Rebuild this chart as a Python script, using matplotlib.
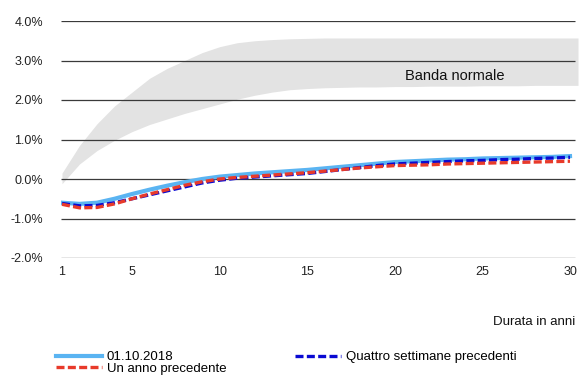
import numpy as np
import matplotlib
matplotlib.use("Agg")
import matplotlib.pyplot as plt

plt.rcParams['font.family'] = ['Liberation Sans', 'DejaVu Sans']

# Durata in anni
years = np.arange(1, 31)

# Banda normale (lower / upper), in %
band_low = [-0.12, 0.38, 0.72, 0.98, 1.20, 1.38, 1.52, 1.66, 1.78, 1.90,
            2.02, 2.12, 2.20, 2.26, 2.29, 2.31, 2.32, 2.33, 2.33, 2.34,
            2.34, 2.35, 2.35, 2.35, 2.36, 2.36, 2.36, 2.37, 2.37, 2.37]
band_high = [0.15, 0.85, 1.40, 1.85, 2.20, 2.55, 2.80, 3.00, 3.20, 3.35,
             3.45, 3.50, 3.53, 3.55, 3.56, 3.57, 3.57, 3.57, 3.57, 3.57,
             3.57, 3.57, 3.57, 3.57, 3.57, 3.57, 3.57, 3.57, 3.57, 3.57]

# Curve dei tassi, in %
curr = [-0.60, -0.63, -0.60, -0.50, -0.38, -0.27, -0.17, -0.08, 0.00, 0.06,
        0.10, 0.14, 0.17, 0.20, 0.23, 0.27, 0.31, 0.35, 0.39, 0.43,
        0.45, 0.47, 0.49, 0.50, 0.52, 0.53, 0.54, 0.55, 0.56, 0.58]
four_weeks = [-0.62, -0.68, -0.67, -0.60, -0.50, -0.40, -0.30, -0.20, -0.10, -0.03,
              0.02, 0.05, 0.08, 0.11, 0.14, 0.19, 0.24, 0.29, 0.34, 0.38,
              0.40, 0.42, 0.44, 0.46, 0.47, 0.49, 0.50, 0.52, 0.53, 0.55]
one_year = [-0.64, -0.73, -0.72, -0.63, -0.50, -0.38, -0.27, -0.16, -0.07, 0.00,
            0.04, 0.07, 0.10, 0.13, 0.16, 0.20, 0.24, 0.28, 0.31, 0.34,
            0.35, 0.36, 0.38, 0.39, 0.40, 0.41, 0.42, 0.43, 0.44, 0.45]

yticks = [-2, -1, 0, 1, 2, 3, 4]
xticks = [1, 5, 10, 15, 20, 25, 30]

W, H = 581, 375
fig = plt.figure(figsize=(W / 100, H / 100), dpi=100)
ax = fig.add_axes([61 / W, 1 - 258 / H, (578 - 61) / W, (258 - 21) / H])

px = (570 - 62) / 29.0
xmin = 1 - 1 / px
xmax = 30 + 8 / px
xgrid = 30 + 5 / px

# band, carried to the right edge
bx = np.append(years, xmax)
ax.fill_between(bx, np.append(band_low, band_low[-1]), np.append(band_high, band_high[-1]),
                color='#e3e3e3', lw=0, zorder=1)
ax.text(23.4, 2.62, 'Banda normale', ha='center', va='center', fontsize=10.5, color='#111111', zorder=2)

ax.hlines(yticks, xmin, xgrid, colors='#3a3a3a', lw=0.9, zorder=2)

dash = (0, (2.4, 1.0))
l1, = ax.plot(years, curr, color='#5ab4f2', lw=3, zorder=3, label='01.10.2018')
l2, = ax.plot(years, four_weeks, color='#0a0ad2', lw=2.4, ls=dash, zorder=4,
              label='Quattro settimane precedenti')
l3, = ax.plot(years, one_year, color='#e83a2a', lw=2.4, ls=dash, zorder=5,
              label='Un anno precedente')

ax.set_xlim(xmin, xmax)
ax.set_ylim(-2, 4)
ax.set_xticks(xticks)
ax.set_yticks(yticks)
ax.set_yticklabels([f'{v:.1f}%' for v in yticks])
ax.tick_params(length=0, labelsize=9, colors='#222222')
ax.tick_params(axis='y', pad=13)
ax.tick_params(axis='x', pad=6)
for s in ax.spines.values():
    s.set_visible(False)

fig.text(575 / W, 1 - 322 / H, 'Durata in anni', ha='right', va='center', fontsize=9.5, color='#111111')

fig.legend([l1, l3, l2], [l1.get_label(), l3.get_label(), l2.get_label()],
           ncol=2, loc='upper left', bbox_to_anchor=(56 / W, 1 - 351 / H),
           frameon=False, fontsize=9.5, handlelength=3.5, handletextpad=0.35,
           labelspacing=-0.05, columnspacing=5.2, borderaxespad=0, borderpad=0)

fig.savefig('out.png', dpi=100)
